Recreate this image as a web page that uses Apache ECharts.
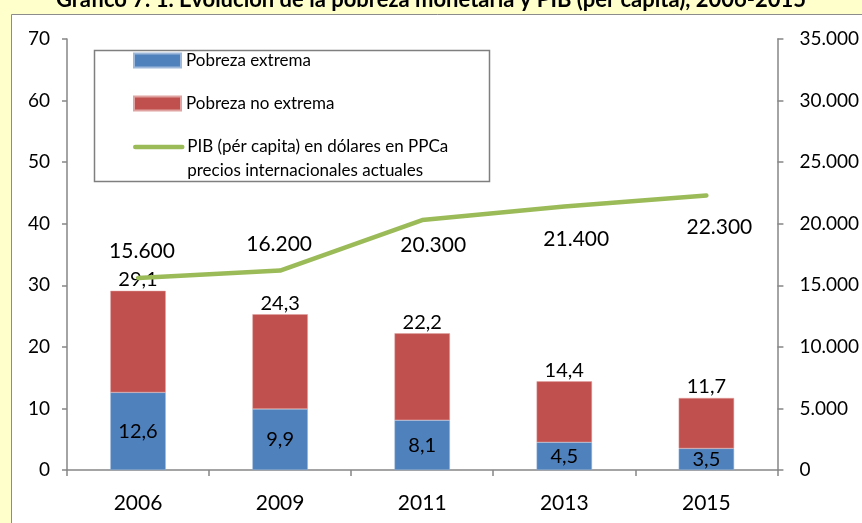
<!DOCTYPE html>
<html>
<head>
<meta charset="UTF-8">
<title>Pobreza monetaria y PIB</title>
<script src="https://cdn.jsdelivr.net/npm/echarts@6/dist/echarts.min.js"></script>
<style>
  html, body { margin: 0; padding: 0; background: #FFFFCC; }
  #chart { width: 862px; height: 523px; }
</style>
</head>
<body>
<div id="chart"></div>
<script>
// datos
var years = ['2006', '2009', '2011', '2013', '2015'];
var pobrezaExtrema = [12.6, 9.9, 8.1, 4.5, 3.5];
var pobrezaNoExtrema = [16.5, 15.4, 14.1, 9.9, 8.2];
var pobrezaTotal = [29.1, 24.3, 22.2, 14.4, 11.7];
var pib = [15600, 16200, 20300, 21400, 22300];

var FONT = 'Lato, "Liberation Sans", sans-serif';
var AXIS_COLOR = '#868686';

function coma(v) { return String(v).replace('.', ','); }
function miles(v) { return String(v).replace(/\B(?=(\d{3})+(?!\d))/g, '.'); }

// desplazamiento de las etiquetas del PIB (colocadas a mano en el original)
var pibLabelShift = [[4, -27], [-1, -26], [11, 25], [12, 33], [13, 32]];

var chart = echarts.init(document.getElementById('chart'));

var option = {
    backgroundColor: '#FFFFCC',
    textStyle: { fontFamily: FONT },
    animation: false,
    title: {
        text: 'Gráfico 7. 1. Evolución de la pobreza monetaria y PIB (per capita), 2006-2015',
        left: 'center',
        top: -16,
        textStyle: { fontFamily: FONT, fontSize: 22, fontWeight: 'bold', color: '#000' }
    },
    graphic: [
        {
            type: 'rect', z: -10,
            shape: { x: 11.5, y: 14.5, width: 900, height: 600 },
            style: { fill: '#fff', stroke: '#8c8c8c', lineWidth: 1 }
        },
        {
            type: 'rect', z: -5,
            shape: { x: 94.5, y: 50.5, width: 395, height: 131 },
            style: { fill: '#fff', stroke: '#7f7f7f', lineWidth: 1.5 }
        }
    ],
    legend: [
        {
            data: ['Pobreza extrema'], left: 133, top: 52, padding: 0,
            itemWidth: 47, itemHeight: 14, icon: 'rect',
            textStyle: { fontFamily: FONT, fontSize: 17, color: '#000' }
        },
        {
            data: ['Pobreza no extrema'], left: 133, top: 95, padding: 0,
            itemWidth: 47, itemHeight: 14, icon: 'rect',
            textStyle: { fontFamily: FONT, fontSize: 17, color: '#000' }
        },
        {
            data: ['PIB'], left: 133, top: 111, padding: 0,
            itemWidth: 47, itemHeight: 14,
            itemStyle: { opacity: 0 },
            lineStyle: { color: '#9BBB59', width: 4.5, cap: 'round' },
            formatter: function () {
                return '\nPIB (pér capita) en dólares en PPCa\nprecios internacionales actuales';
            },
            textStyle: { fontFamily: FONT, fontSize: 17, color: '#000', lineHeight: 24 }
        }
    ],
    grid: { left: 67, right: 82, top: 39, bottom: 53 },
    xAxis: {
        type: 'category',
        data: years,
        axisLine: { lineStyle: { color: AXIS_COLOR, width: 1.5 } },
        axisTick: { show: true, length: 6, lineStyle: { color: AXIS_COLOR, width: 1.5 } },
        axisLabel: { fontFamily: FONT, fontSize: 21, color: '#000', margin: 23 }
    },
    yAxis: [
        {
            type: 'value', min: 0, max: 70, interval: 10,
            splitLine: { show: false },
            axisLine: { show: true, lineStyle: { color: AXIS_COLOR, width: 1.5 } },
            axisTick: { show: true, length: 5, lineStyle: { color: AXIS_COLOR, width: 1.5 } },
            axisLabel: { fontFamily: FONT, fontSize: 19, color: '#000', margin: 17 }
        },
        {
            type: 'value', min: 0, max: 35000, interval: 5000,
            splitLine: { show: false },
            axisLine: { show: true, lineStyle: { color: AXIS_COLOR, width: 1.5 } },
            axisTick: { show: true, length: 6, lineStyle: { color: AXIS_COLOR, width: 1.5 } },
            axisLabel: { fontFamily: FONT, fontSize: 19, color: '#000', margin: 22, formatter: miles }
        }
    ],
    series: [
        {
            name: 'Pobreza extrema',
            type: 'bar', stack: 'pobreza', barWidth: '39%',
            data: pobrezaExtrema,
            itemStyle: { color: '#4F81BD', borderColor: '#9db8da', borderWidth: 0.5 },
            label: {
                show: true, position: 'inside', color: '#000',
                fontFamily: FONT, fontSize: 20,
                formatter: function (p) { return coma(p.value); }
            }
        },
        {
            name: 'Pobreza no extrema',
            type: 'bar', stack: 'pobreza', barWidth: '39%',
            data: pobrezaNoExtrema,
            itemStyle: { color: '#C0504D', borderColor: '#e0a3a1', borderWidth: 0.5 },
            label: {
                show: true, position: 'top', distance: 1, color: '#000',
                fontFamily: FONT, fontSize: 20,
                formatter: function (p) { return coma(pobrezaTotal[p.dataIndex]); }
            }
        },
        {
            name: 'PIB',
            type: 'line', yAxisIndex: 1,
            data: pib,
            showSymbol: true, symbol: 'circle', symbolSize: 0,
            lineStyle: { color: '#9BBB59', width: 4.5, cap: 'round', join: 'round' },
            itemStyle: { color: '#9BBB59' },
            z: 5,
            label: {
                show: true, position: 'inside', color: '#000',
                fontFamily: FONT, fontSize: 21,
                formatter: function (p) { return miles(p.value); }
            },
            labelLayout: function (p) {
                var s = pibLabelShift[p.dataIndex];
                return { dx: s[0], dy: s[1] };
            }
        }
    ]
};

chart.setOption(option);
</script>
</body>
</html>
